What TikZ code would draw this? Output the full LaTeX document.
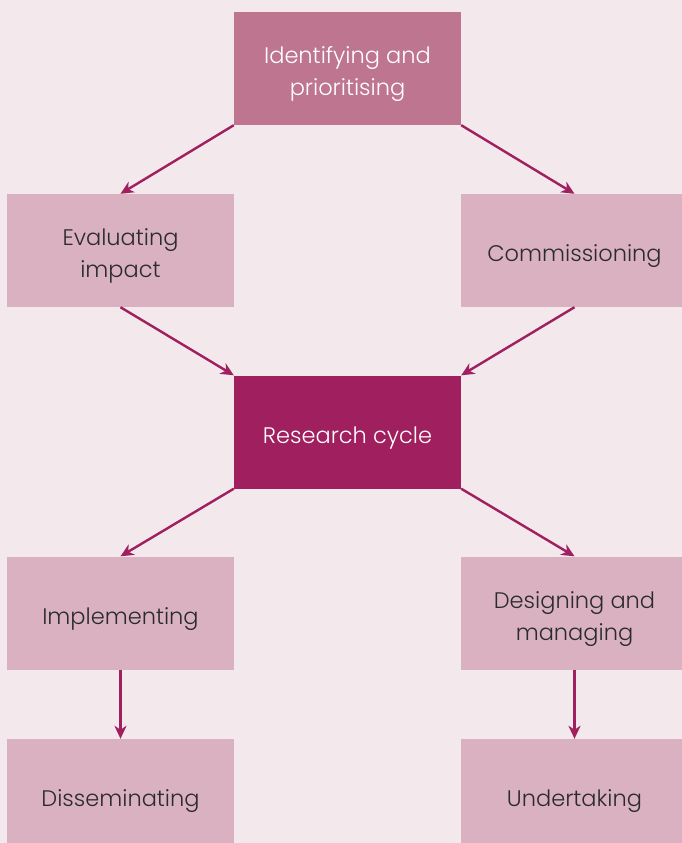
\documentclass[tikz,border=0pt]{standalone}
\usepackage{fontspec}
\setmainfont{Poppins}[UprightFont=* Light]
\usetikzlibrary{arrows,arrows.meta}

\definecolor{bgpink}{HTML}{F3E8EC}
\definecolor{toprose}{HTML}{BE7590}
\definecolor{lightrose}{HTML}{D9B1C1}
\definecolor{plum}{HTML}{A01F5E}
\definecolor{inkgray}{HTML}{2B2B2B}

% text set a little lower in each box, extents kept
\newcommand{\boxtext}[1]{\raisebox{-5pt}[\height][\depth]{\begin{tabular}{@{}c@{}}#1\end{tabular}}}

\tikzset{
  stagebox/.style={rectangle, fill=lightrose, text=inkgray, minimum width=227pt,
    minimum height=113pt, inner sep=0pt,
    font=\fontsize{22.5}{32}\selectfont},
  headbox/.style={stagebox, fill=toprose, text=white},
  hubbox/.style={stagebox, fill=plum, text=white},
  flow/.style={-{Stealth[length=13pt,width=12pt,inset=4pt]}, color=plum, line width=2.4pt}
}

\begin{document}
\begin{tikzpicture}[x=1pt, y=1pt]
          \useasboundingbox (0,0) rectangle (682,-843);
          \fill[bgpink] (0,0) rectangle (682,-843);

          \node[headbox] (identify) at (347.5,-68.5) {\boxtext{Identifying and\\prioritising}};
          \node[stagebox] (evaluate) at (120.5,-250.5) {\boxtext{Evaluating\\impact}};
          \node[stagebox] (commission) at (574.5,-250.5) {\boxtext{Commissioning}};
          \node[hubbox] (cycle) at (347.5,-432) {\boxtext{Research cycle}};
          \node[stagebox] (implement) at (120.5,-613) {\boxtext{Implementing}};
          \node[stagebox] (design) at (574.5,-613) {\boxtext{Designing and\\managing}};
          \node[stagebox] (disseminate) at (120.5,-795.5) {\boxtext{Disseminating}};
          \node[stagebox] (undertake) at (574.5,-795.5) {\boxtext{Undertaking}};

          \draw[flow] (identify.south west) -- (evaluate.north);
          \draw[flow] (identify.south east) -- (commission.north);
          \draw[flow] (evaluate.south) -- (cycle.north west);
          \draw[flow] (commission.south) -- (cycle.north east);
          \draw[flow] (cycle.south west) -- (implement.north);
          \draw[flow] (cycle.south east) -- (design.north);
          \draw[flow] (implement.south) -- (disseminate.north);
          \draw[flow] (design.south) -- (undertake.north);
        \end{tikzpicture}
\end{document}
